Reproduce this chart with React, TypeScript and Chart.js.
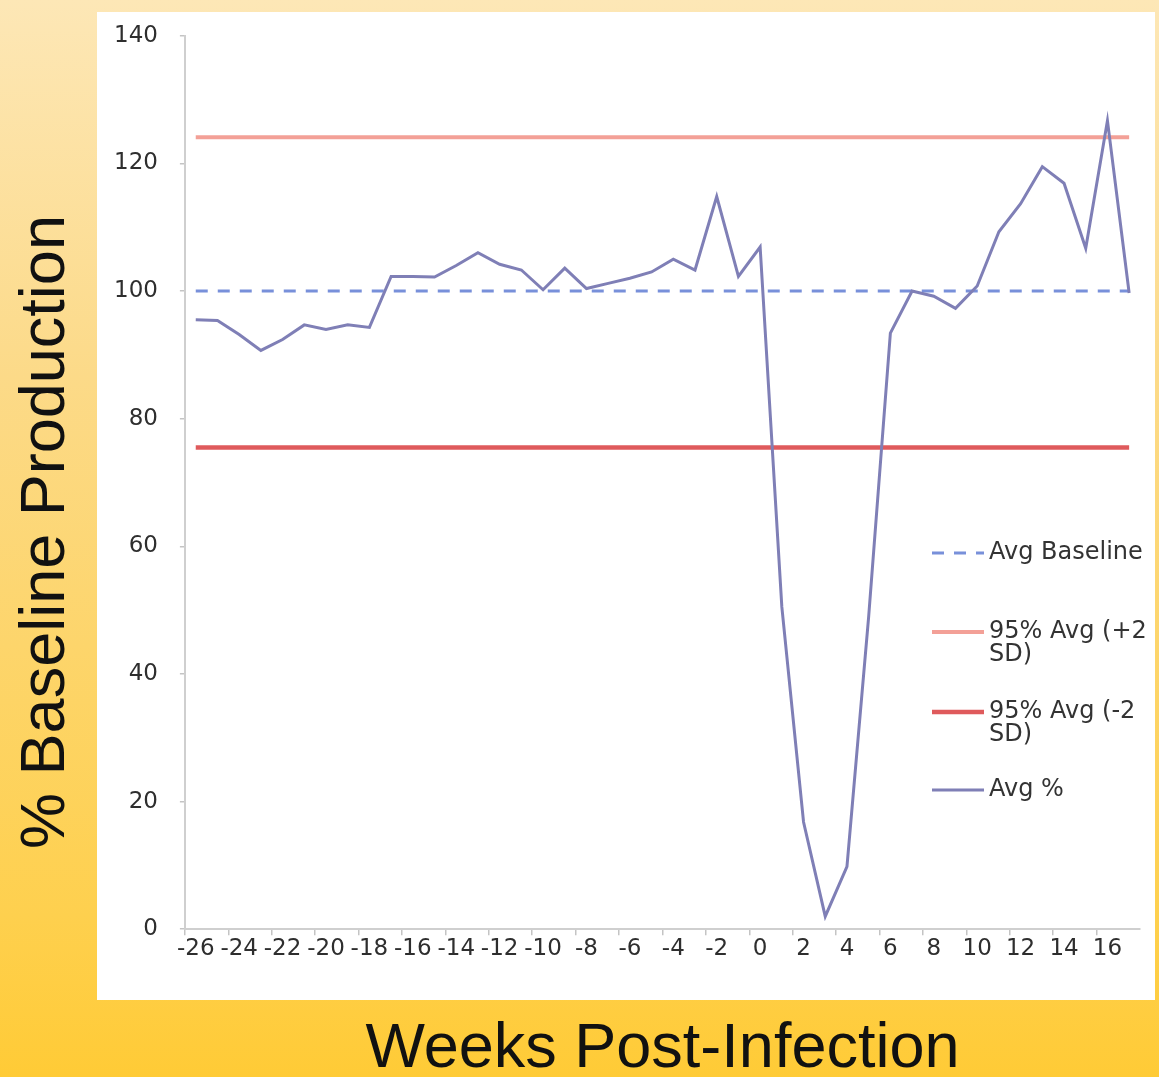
import React, { useEffect, useRef } from 'react';
import { Chart, registerables } from 'chart.js';

Chart.register(...registerables);

// ---- data ----
const weeks: number[] = [
  -26, -25, -24, -23, -22, -21, -20, -19, -18, -17, -16, -15, -14, -13, -12, -11,
  -10, -9, -8, -7, -6, -5, -4, -3, -2, -1, 0, 1, 2, 3, 4, 5, 6, 7, 8, 9, 10, 11,
  12, 13, 14, 15, 16, 17,
];

const avgPercent: number[] = [
  95.5, 95.4, 93.2, 90.7, 92.4, 94.7, 94.0, 94.7, 94.3, 102.3, 102.3, 102.2, 104.0,
  106.0, 104.2, 103.3, 100.2, 103.6, 100.4, 101.2, 102.0, 103.0, 105.0, 103.3, 114.8,
  102.3, 106.9, 50.5, 16.8, 2.0, 9.8, 49.0, 93.4, 100.0, 99.2, 97.3, 100.8, 109.3,
  113.7, 119.5, 116.9, 106.7, 126.7, 99.7,
];

const avgBaselineValue = 100;
const upperLimitValue = 124.1;
const lowerLimitValue = 75.5;

const yMin = 0;
const yMax = 140;
const yStep = 20;

const seriesLabels = {
  baseline: 'Avg Baseline',
  upper: '95% Avg (+2 SD)',
  lower: '95% Avg (-2 SD)',
  avg: 'Avg %',
};

// legend rows: wrapped text lines, dataset index
const legendRows: { lines: string[]; ds: number }[] = [
  { lines: ['Avg Baseline'], ds: 0 },
  { lines: ['95% Avg (+2', 'SD)'], ds: 1 },
  { lines: ['95% Avg (-2', 'SD)'], ds: 2 },
  { lines: ['Avg %'], ds: 3 },
];

const xTitle = 'Weeks Post-Infection';
const yTitle = '% Baseline Production';

const TICK_FONT = 'DejaVu Sans';
const TITLE_FONT = 'Liberation Sans';

const backgroundPlugin = {
  id: 'slideBackground',
  beforeDraw(chart: any) {
    const { ctx, width, height } = chart;
    ctx.save();
    const g = ctx.createLinearGradient(0, 0, 0, height);
    g.addColorStop(0, '#fde7b6');
    g.addColorStop(0.35, '#fcda88');
    g.addColorStop(0.85, '#fed04e');
    g.addColorStop(1, '#ffcb36');
    ctx.fillStyle = g;
    ctx.fillRect(0, 0, width, height);
    ctx.fillStyle = '#ffffff';
    ctx.fillRect(97, 12, 1058, 988);
    ctx.restore();
  },
};

const yTitlePlugin = {
  id: 'yTitle',
  afterDraw(chart: any) {
    const { ctx } = chart;
    ctx.save();
    ctx.translate(47, 532);
    ctx.rotate(-Math.PI / 2);
    ctx.font = `63px "${TITLE_FONT}"`;
    ctx.fillStyle = '#111111';
    ctx.textAlign = 'center';
    ctx.textBaseline = 'middle';
    ctx.fillText(yTitle, 0, 0);
    ctx.restore();
  },
};

const legendPlugin = {
  id: 'wrappedLegend',
  afterDraw(chart: any) {
    const { ctx } = chart;
    const rowY = [553, 632, 712, 790];
    const lineGap = 23;
    const x0 = 932;
    const x1 = 984;
    const tx = 989;
    ctx.save();
    ctx.font = `24px "${TICK_FONT}"`;
    ctx.textBaseline = 'middle';
    ctx.textAlign = 'left';
    legendRows.forEach((row, i) => {
      const ds = chart.data.datasets[row.ds];
      const y = rowY[i];
      ctx.beginPath();
      ctx.strokeStyle = ds.borderColor;
      ctx.lineWidth = ds.borderWidth;
      ctx.setLineDash(ds.borderDash || []);
      ctx.moveTo(x0, y);
      ctx.lineTo(x1, y);
      ctx.stroke();
      ctx.setLineDash([]);
      ctx.fillStyle = '#333333';
      row.lines.forEach((t, j) => ctx.fillText(t, tx, y + j * lineGap));
    });
    ctx.restore();
  },
};

export default function App() {
  const canvasRef = useRef<HTMLCanvasElement | null>(null);

  useEffect(() => {
    document.body.style.margin = '0';
    const canvas = canvasRef.current;
    if (!canvas) return;
    const chart = new Chart(canvas, {
      type: 'line',
      data: {
        labels: weeks.map(String),
        datasets: [
          {
            label: seriesLabels.baseline,
            data: weeks.map(() => avgBaselineValue),
            borderColor: '#7890da',
            borderWidth: 3,
            borderDash: [12, 10],
            pointRadius: 0,
            order: 3,
          },
          {
            label: seriesLabels.upper,
            data: weeks.map(() => upperLimitValue),
            borderColor: '#f3a097',
            borderWidth: 4,
            pointRadius: 0,
            order: 2,
          },
          {
            label: seriesLabels.lower,
            data: weeks.map(() => lowerLimitValue),
            borderColor: '#df5a5c',
            borderWidth: 4.5,
            pointRadius: 0,
            order: 1,
          },
          {
            label: seriesLabels.avg,
            data: avgPercent,
            borderColor: '#7f7fb6',
            borderWidth: 3,
            pointRadius: 0,
            tension: 0,
            order: 0,
          },
        ],
      },
      options: {
        responsive: false,
        animation: false,
        devicePixelRatio: 1,
        layout: { padding: { top: 32, right: 19, left: 92, bottom: 0 } },
        plugins: {
          legend: { display: false },
          tooltip: { enabled: false },
        },
        scales: {
          x: {
            type: 'category',
            offset: true,
            grid: {
              offset: true,
              drawOnChartArea: false,
              tickLength: 6,
              color: (ctx: any) => (ctx.index % 2 === 0 ? '#c4c4c4' : 'rgba(0,0,0,0)'),
              lineWidth: 1.5,
            },
            border: { color: '#cfcfcf', width: 2 },
            ticks: {
              autoSkip: false,
              maxRotation: 0,
              minRotation: 0,
              padding: 0,
              color: '#2e2e2e',
              font: { family: TICK_FONT, size: 23 },
              callback: (_v: any, i: number) => (weeks[i] % 2 === 0 ? String(weeks[i]) : ''),
            },
            title: {
              display: true,
              text: xTitle,
              color: '#111111',
              font: { family: TITLE_FONT, size: 63, lineHeight: 0.86 },
              padding: { top: 60, bottom: 0 },
            },
          },
          y: {
            min: yMin,
            max: yMax,
            grid: {
              drawOnChartArea: false,
              tickLength: 5,
              color: '#c4c4c4',
              lineWidth: 1.5,
            },
            border: { color: '#cfcfcf', width: 2 },
            ticks: {
              stepSize: yStep,
              padding: 22,
              color: '#2e2e2e',
              font: { family: TICK_FONT, size: 23 },
            },
          },
        },
      },
      plugins: [backgroundPlugin, legendPlugin, yTitlePlugin],
    } as any);
    return () => chart.destroy();
  }, []);

  return (
    <div style={{ position: 'fixed', left: 0, top: 0, width: 1159, height: 1077 }}>
      <canvas ref={canvasRef} width={1159} height={1077} style={{ display: 'block' }} />
    </div>
  );
}
